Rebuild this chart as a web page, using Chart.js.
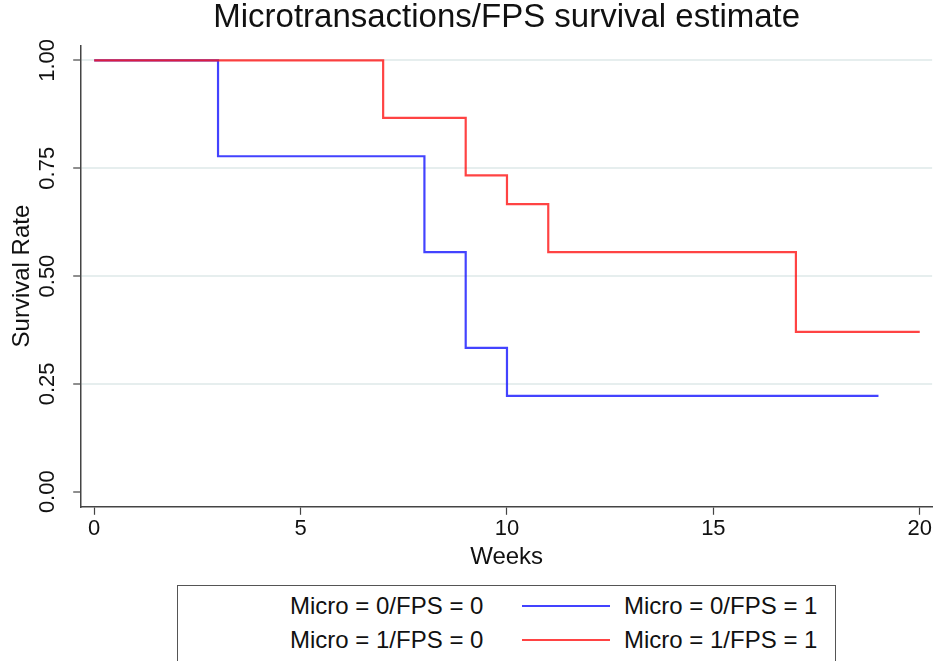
<!DOCTYPE html>
<html>
<head>
<meta charset="utf-8">
<script src="https://cdn.jsdelivr.net/npm/chart.js@4.4.1/dist/chart.umd.min.js"></script>
<style>
  html, body { margin: 0; padding: 0; background: #fff; overflow: hidden; }
  body { width: 933px; height: 661px; position: relative; font-family: "Liberation Sans", Arial, sans-serif; }
  #wrap { position: absolute; left: 0; top: 0; width: 933px; height: 574px; }
  #legend {
    position: absolute; left: 177px; top: 585px; width: 659px; height: 90px;
    border: 1px solid #555; box-sizing: border-box; background: #fff;
  }
  .item { position: absolute; height: 20px; display: flex; align-items: center; font-size: 24px; color: #111; white-space: nowrap; }
  .key { width: 88px; height: 2px; margin-right: 14px; flex: none; }
</style>
</head>
<body>
<div id="wrap"><canvas id="km"></canvas></div>
<div id="legend"></div>
<script>
// 데이터
const seriesLabels = ['Micro = 0/FPS = 0', 'Micro = 0/FPS = 1', 'Micro = 1/FPS = 0', 'Micro = 1/FPS = 1'];
const seriesColors = ['rgba(0,0,0,0)', 'rgba(20,20,255,0.8)', 'rgba(0,0,0,0)', 'rgba(255,20,20,0.8)'];

// Micro=0/FPS=0, Micro=1/FPS=0 은 곡선 없음
const weeks00 = [];
const surv00 = [];
const weeks01 = [0, 3, 8, 9, 10, 19];
const surv01 = [1.0, 0.7778, 0.5556, 0.3333, 0.2222, 0.2222];
const weeks10 = [];
const surv10 = [];
const weeks11 = [0, 7, 9, 10, 11, 17, 20];
const surv11 = [1.0, 0.8667, 0.7333, 0.6667, 0.5556, 0.3704, 0.3704];

const xTicks = [0, 5, 10, 15, 20];
const yTicks = [0, 0.25, 0.5, 0.75, 1.0];

const toPts = (xs, ys) => xs.map((x, i) => ({ x: x, y: ys[i] }));
const allWeeks = [weeks00, weeks01, weeks10, weeks11];
const allSurv = [surv00, surv01, surv10, surv11];

// 뒤 시리즈가 위에 그려지도록 order 지정
const datasets = seriesLabels.map((lab, i) => ({
    label: lab,
    data: toPts(allWeeks[i], allSurv[i]),
    borderColor: seriesColors[i],
    borderWidth: 2.2,
    pointRadius: 0,
    stepped: 'before',
    fill: false,
    order: seriesLabels.length - i
}));

const fam = '"Liberation Sans", Arial, sans-serif';
const tickFont = { family: fam, size: 22 };
const titleFont = { family: fam, size: 24 };

new Chart(document.getElementById('km'), {
    type: 'line',
    data: { datasets: datasets },
    options: {
        responsive: true,
        maintainAspectRatio: false,
        animation: false,
        layout: { padding: { left: 5, right: 0, top: 0, bottom: 2 } },
        plugins: {
            legend: { display: false },
            tooltip: { enabled: false },
            title: {
                display: true,
                fullSize: false,
                text: 'Microtransactions/FPS survival estimate',
                color: '#111',
                font: { family: fam, size: 33, weight: 'normal', lineHeight: 1.1 },
                padding: { top: 0, bottom: 9 }
            }
        },
        scales: {
            x: {
                type: 'linear',
                min: -0.315,
                max: 20.3,
                afterBuildTicks: s => { s.ticks = xTicks.map(v => ({ value: v })); },
                ticks: { color: '#111', font: tickFont, padding: 1, maxRotation: 0 },
                grid: { display: true, drawOnChartArea: false, tickLength: 8, tickColor: '#444', tickWidth: 1.2 },
                border: { color: '#444', width: 1.5 },
                title: { display: true, text: 'Weeks', color: '#111', font: titleFont, padding: { top: 0, bottom: 0 } }
            },
            y: {
                type: 'linear',
                min: -0.035,
                max: 1.035,
                afterBuildTicks: s => { s.ticks = yTicks.map(v => ({ value: v })); },
                ticks: {
                    color: '#111', font: tickFont, padding: 3.5,
                    minRotation: 90, maxRotation: 90, crossAlign: 'center',
                    callback: v => Number(v).toFixed(2)
                },
                grid: {
                    color: ctx => ctx.tick && ctx.tick.value === 0 ? 'rgba(0,0,0,0)' : '#e6eeee',
                    lineWidth: 2,
                    tickLength: 8, tickColor: '#444', tickWidth: 1.2
                },
                border: { color: '#444', width: 1.5 },
                title: { display: true, text: 'Survival Rate', color: '#111', font: titleFont, padding: { top: 3, bottom: 3 } }
            }
        }
    }
});

// 범례 (Stata 스타일: 키 + 라벨, 2열)
const legendEl = document.getElementById('legend');
const colLeft = [10, 344];
const rowTop = [10, 44];
seriesLabels.forEach((lab, i) => {
    const item = document.createElement('div');
    item.className = 'item';
    item.style.left = colLeft[i % 2] + 'px';
    item.style.top = rowTop[Math.floor(i / 2)] + 'px';
    const key = document.createElement('span');
    key.className = 'key';
    key.style.background = seriesColors[i];
    const txt = document.createElement('span');
    txt.textContent = lab;
    item.appendChild(key);
    item.appendChild(txt);
    legendEl.appendChild(item);
});
</script>
</body>
</html>
